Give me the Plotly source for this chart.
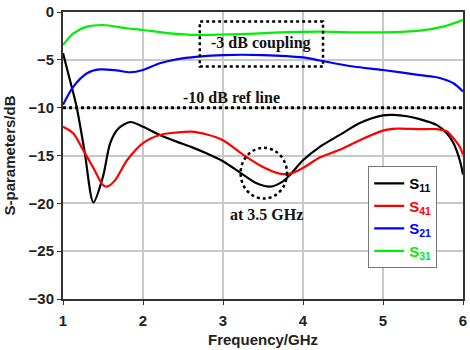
import plotly.graph_objects as go

# ---- data ----
s11_f = [1.0, 1.08, 1.17, 1.27, 1.38, 1.5, 1.59, 1.69, 1.84, 2.0, 2.21, 2.42, 2.6, 2.8, 3.0,
         3.25, 3.42, 3.59, 3.75, 3.84, 4.0, 4.21, 4.46, 4.71, 5.0, 5.13, 5.3, 5.46, 5.67, 5.8,
         5.88, 5.96, 6.0]
s11_db = [-4.3, -6.9, -9.9, -14.6, -19.9, -17.2, -13.7, -12.2, -11.5, -12.0, -12.85, -13.55,
          -14.1, -14.8, -15.6, -17.0, -17.9, -18.25, -17.7, -17.0, -15.5, -14.1, -12.85, -11.6,
          -10.8, -10.76, -10.9, -11.2, -11.8, -12.7, -13.7, -15.5, -17.0]

s41_f = [1.0, 1.13, 1.25, 1.38, 1.5, 1.55, 1.65, 1.8, 2.0, 2.21, 2.42, 2.6, 2.8, 3.0, 3.25,
         3.5, 3.71, 3.84, 4.0, 4.21, 4.46, 4.71, 5.0, 5.17, 5.46, 5.67, 5.8, 5.88, 5.96, 6.0]
s41_db = [-12.0, -12.7, -14.4, -16.3, -18.1, -18.25, -17.6, -15.5, -13.7, -12.85, -12.6, -12.5,
          -12.8, -13.4, -14.9, -16.2, -16.9, -16.9, -16.3, -15.2, -14.4, -13.4, -12.4, -12.2,
          -12.25, -12.25, -12.5, -13.2, -14.1, -14.9]

s21_f = [1.0, 1.13, 1.3, 1.46, 1.67, 1.84, 2.0, 2.21, 2.42, 2.69, 3.0, 3.5, 4.0, 4.21, 4.63,
         5.0, 5.46, 5.71, 5.88, 6.0]
s21_db = [-9.7, -7.8, -6.4, -6.0, -6.1, -6.3, -6.06, -5.36, -4.95, -4.67, -4.5, -4.5, -4.75,
          -5.07, -5.7, -6.06, -6.6, -6.9, -7.45, -8.3]

s31_f = [1.0, 1.13, 1.3, 1.5, 1.8, 2.0, 2.34, 2.67, 3.0, 3.4, 3.8, 4.21, 4.71, 5.0, 5.46,
         5.75, 6.0]
s31_db = [-3.45, -2.23, -1.53, -1.36, -1.7, -1.88, -2.23, -2.4, -2.35, -2.25, -2.1, -2.05,
          -2.13, -2.13, -1.95, -1.53, -0.84]

x_ticks = [1, 2, 3, 4, 5, 6]
y_ticks = [0, -5, -10, -15, -20, -25, -30]
ref_line_db = -10
coupling_box = dict(x0=2.71, x1=4.25, y0=-5.7, y1=-1.0)
marker_circle = dict(x0=3.22, x1=3.8, y0=-19.5, y1=-14.2)

series = [
    ("S<sub>11</sub>", s11_f, s11_db, "#000000"),
    ("S<sub>41</sub>", s41_f, s41_db, "#ff0000"),
    ("S<sub>21</sub>", s21_f, s21_db, "#0000ff"),
    ("S<sub>31</sub>", s31_f, s31_db, "#00ee00"),
]

fig = go.Figure()
for name, f, db, col in series:
    fig.add_trace(go.Scatter(
        x=f, y=db, mode="lines",
        line=dict(color=col, width=2.2, shape="spline", smoothing=0.8),
        name=f'<b><span style="color:{col}">{name}</span></b>',
    ))

serif = "Liberation Serif, Times New Roman, serif"
sans = "Liberation Sans, Arial, sans-serif"

fig.add_shape(type="line", x0=x_ticks[0], x1=x_ticks[-1], y0=ref_line_db, y1=ref_line_db,
              line=dict(color="black", width=3, dash="dot"))
fig.add_shape(type="rect", **coupling_box, line=dict(color="black", width=2.5, dash="dot"))
fig.add_shape(type="circle", **marker_circle, line=dict(color="black", width=2.5, dash="dot"))

fig.add_annotation(x=3.48, y=-3.27, text="<b>-3 dB coupling</b>", showarrow=False,
                   font=dict(family=serif, size=16, color="#111"))
fig.add_annotation(x=3.11, y=-8.9, text="<b>-10 dB ref line</b>", showarrow=False,
                   font=dict(family=serif, size=16, color="#111"))
fig.add_annotation(x=3.54, y=-21.2, text="<b>at 3.5 GHz</b>", showarrow=False,
                   font=dict(family=serif, size=16, color="#111"))

fig.update_xaxes(range=[1, 6], tickvals=x_ticks, showgrid=True, gridcolor="#c8c8c8", gridwidth=2,
                 showline=True, linecolor="#333", linewidth=2, mirror=True,
                 ticks="outside", ticklen=4, tickcolor="#333", ticklabelstandoff=3,
                 tickfont=dict(family=sans, size=15, color="#222", weight="bold"),
                 title=dict(text="<b>Frequency/GHz</b>", font=dict(family=sans, size=15, color="#222"),
                            standoff=6),
                 zeroline=False, automargin=False)
fig.update_yaxes(range=[-30, 0], tickvals=y_ticks, showgrid=True, gridcolor="#c8c8c8", gridwidth=2,
                 showline=True, linecolor="#333", linewidth=2, mirror=True,
                 ticks="outside", ticklen=4, tickcolor="#333",
                 tickfont=dict(family=sans, size=15, color="#222", weight="bold"),
                 title=dict(text="<b>S-parameters/dB</b>", font=dict(family=sans, size=15, color="#222"),
                            standoff=9),
                 zeroline=False, automargin=False)

fig.update_layout(
    width=470, height=350,
    margin=dict(l=63, r=7, t=12, b=51),
    plot_bgcolor="white", paper_bgcolor="white",
    legend=dict(x=0.763, y=0.463, xanchor="left", yanchor="top",
                bgcolor="white", bordercolor="#777", borderwidth=1,
                font=dict(family=sans, size=15), itemwidth=30,
                tracegroupgap=0),
)

fig.write_html("out.html")
